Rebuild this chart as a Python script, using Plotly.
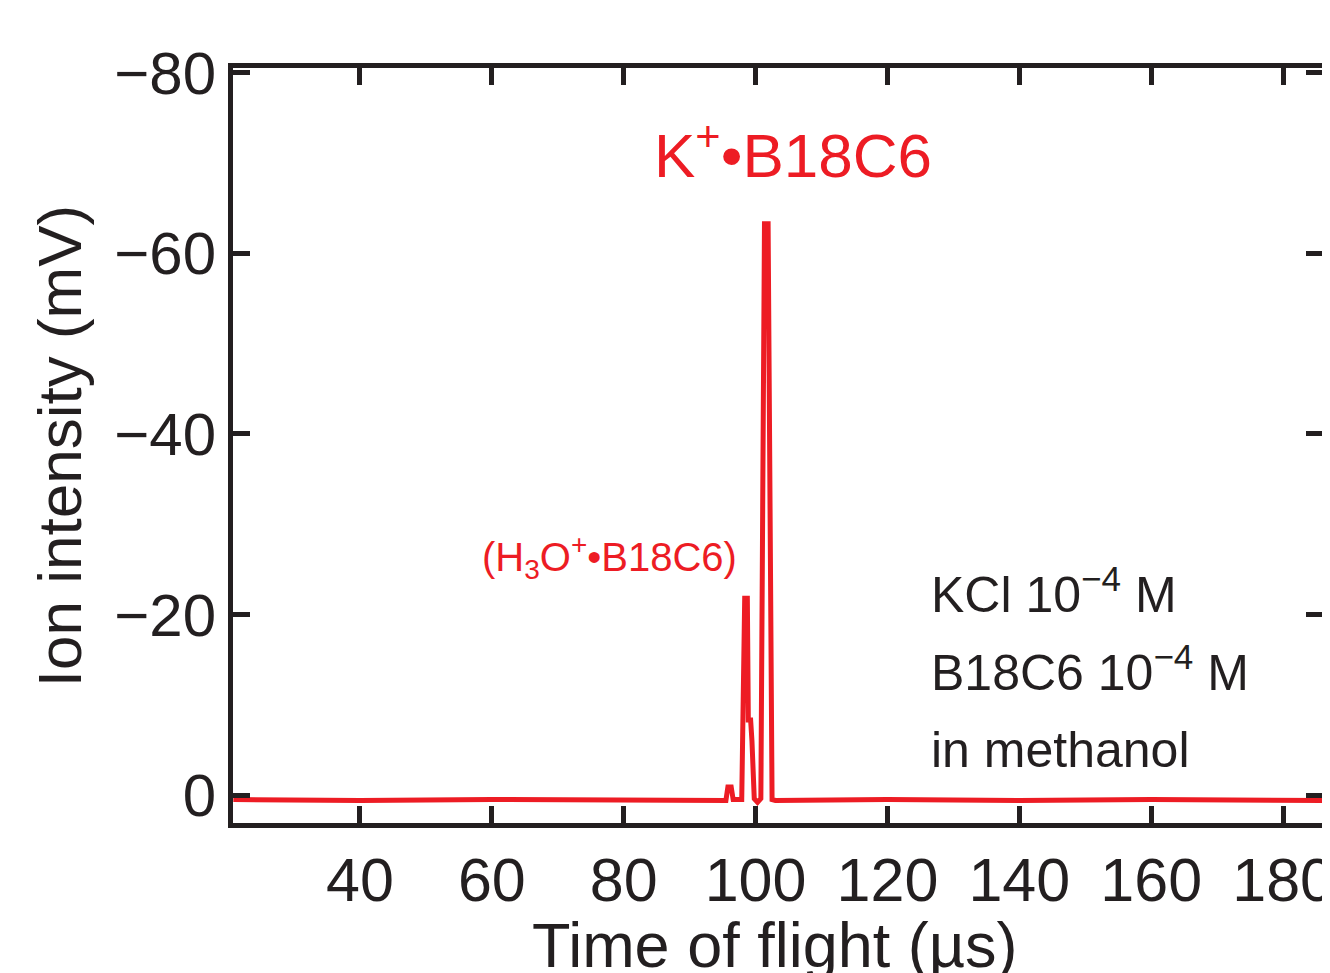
import plotly.graph_objects as go

# Data
tof_us = [20.8, 40.0, 60.0, 80.0, 95.5, 95.8, 96.3, 96.6, 97.9, 98.35, 98.75, 98.9, 99.25, 99.45, 99.8,
          100.3, 100.8, 101.35, 101.9, 102.5, 103.0, 120.0, 140.0, 160.0, 186.0]
intensity_mV = [0.5, 0.6, 0.5, 0.5, 0.6, -0.9, -0.9, 0.5, 0.5, -21.8, -21.8, -8.3, -8.3, -6.0, 0.4,
                0.8, 0.4, -63.3, -63.3, 0.5, 0.6, 0.5, 0.6, 0.5, 0.6]

x_tickvals = [40, 60, 80, 100, 120, 140, 160, 180]
x_ticktext = ["40", "60", "80", "100", "120", "140", "160", "180"]
y_tickvals = [0, -20, -40, -60, -80]
y_ticktext = ["0", "\u221220", "\u221240", "\u221260", "\u221280"]

RED = "#ED1C24"
DARK = "#231F20"
FONT = "Liberation Sans, Arial, sans-serif"

fig = go.Figure()
fig.add_trace(go.Scatter(x=tof_us, y=intensity_mV, mode="lines",
                         line=dict(color=RED, width=5), hoverinfo="skip",
                         showlegend=False))

fig.update_layout(
    width=1330, height=973,
    margin=dict(l=225, r=15, t=60, b=158, autoexpand=False),
    paper_bgcolor="white", plot_bgcolor="white",
    font=dict(family=FONT, color=DARK),
    xaxis=dict(range=[20.75, 186.05], tickvals=x_tickvals, ticktext=x_ticktext,
               ticks="inside", ticklen=17, tickwidth=5, tickcolor=DARK,
               showline=True, linewidth=5, linecolor=DARK, mirror="ticks",
               showgrid=False, zeroline=False, automargin=False,
               ticklabeloverflow="allow",
               tickfont=dict(size=61, family=FONT, color=DARK)),
    yaxis=dict(range=[3.1, -80.55], tickvals=y_tickvals, ticktext=y_ticktext,
               ticks="inside", ticklen=17, tickwidth=5, tickcolor=DARK,
               showline=True, linewidth=5, linecolor=DARK, mirror="ticks",
               showgrid=False, zeroline=False, automargin=False,
               ticklabeloverflow="allow",
               tickfont=dict(size=60, family=FONT, color=DARK)),
)

# axis titles
fig.add_annotation(x=0.4972, y=-0.1616, xref="paper", yref="paper",
                   text="Time of flight (\u00b5s)", showarrow=False,
                   font=dict(size=63, family=FONT, color=DARK), xanchor="center", yanchor="middle")
fig.add_annotation(x=-0.1595, y=0.4993, xref="paper", yref="paper",
                   text="Ion intensity (mV)", showarrow=False, textangle=-90,
                   font=dict(size=62, family=FONT, color=DARK), xanchor="center", yanchor="middle")

fig.add_annotation(x=105.7, y=-71.3, xref="x", yref="y",
                   text="K<sup>+</sup>\u2022B18C6", showarrow=False,
                   font=dict(size=62, color=RED, family=FONT), xanchor="center", yanchor="middle")
fig.add_annotation(x=77.8, y=-26.4, xref="x", yref="y",
                   text="(H<sub>3</sub>O<sup>+</sup>\u2022B18C6)", showarrow=False,
                   font=dict(size=40, color=RED, family=FONT), xanchor="center", yanchor="middle")
notes = ["KCl 10<sup>\u22124</sup> M", "B18C6 10<sup>\u22124</sup> M", "in methanol"]
note_y = [-22.6, -14.0, -5.0]
for txt, yy in zip(notes, note_y):
    fig.add_annotation(x=126.25, y=yy, xref="x", yref="y", text=txt, showarrow=False,
                       font=dict(size=50, color=DARK, family=FONT), xanchor="left", yanchor="middle")

fig.write_html("out.html")
